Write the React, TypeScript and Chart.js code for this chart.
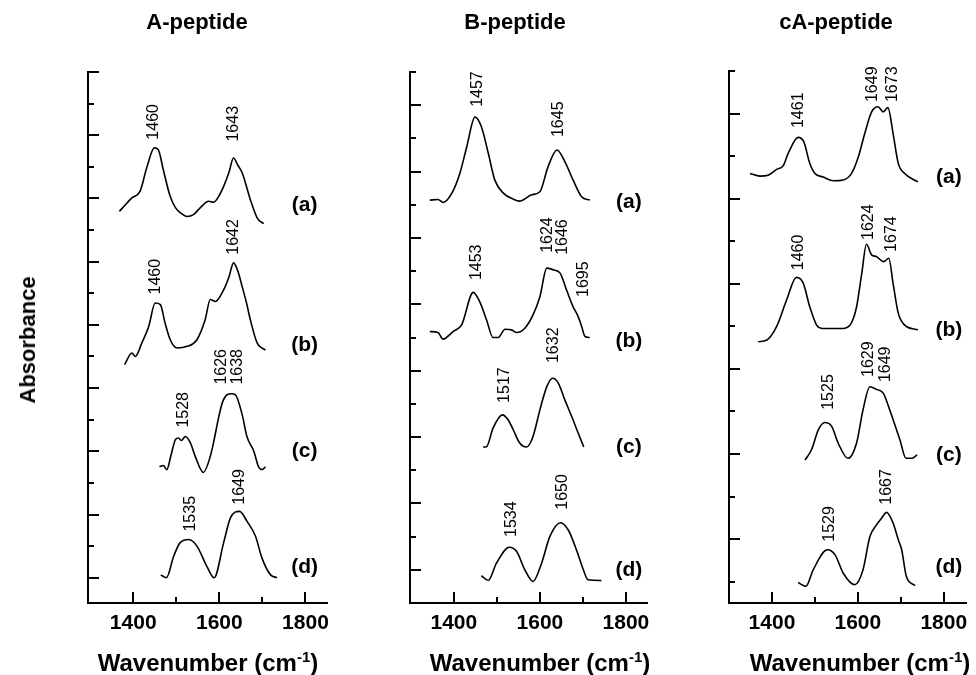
import React, { useEffect, useRef } from "react";
import { Chart, registerables } from "chart.js";
Chart.register(...registerables);

const FONT = '"Liberation Sans", Arial, Helvetica, sans-serif';

// ---------- A-peptide spectra (wavenumber, absorbance incl. stacking offset) ----------
const aPepA_w = [1368, 1385, 1397, 1416, 1432, 1449, 1458, 1470, 1485, 1498, 1512, 1525, 1540, 1556, 1575, 1587, 1600, 1610, 1622, 1633, 1643, 1653, 1672, 1688, 1703];
const aPepA_y = [11.59, 11.85, 12.02, 12.23, 13.0, 13.6, 13.55, 12.9, 12.1, 11.71, 11.52, 11.43, 11.49, 11.71, 11.91, 11.88, 12.1, 12.38, 12.81, 13.28, 13.05, 12.81, 11.96, 11.38, 11.2];
const aPepB_w = [1380, 1397, 1405, 1420, 1436, 1451, 1463, 1474, 1486, 1502, 1525, 1548, 1567, 1579, 1591, 1610, 1622, 1633, 1643, 1653, 1663, 1672, 1688, 1707];
const aPepB_y = [6.74, 7.11, 7.0, 7.43, 7.95, 8.69, 8.64, 8.06, 7.53, 7.27, 7.32, 7.53, 8.16, 8.8, 8.74, 9.11, 9.5, 9.96, 9.7, 9.21, 8.7, 8.16, 7.42, 7.2];
const aPepC_w = [1461, 1470, 1478, 1488, 1498, 1505, 1512, 1521, 1533, 1544, 1563, 1579, 1588, 1598, 1607, 1618, 1628, 1637, 1653, 1664, 1680, 1691, 1699, 1707];
const aPepC_y = [3.51, 3.55, 3.42, 3.89, 4.37, 4.42, 4.34, 4.47, 4.26, 3.84, 3.33, 3.84, 4.37, 5.05, 5.54, 5.79, 5.82, 5.79, 5.16, 4.47, 4.0, 3.51, 3.42, 3.51];
const aPepD_w = [1464, 1477, 1494, 1509, 1529, 1548, 1571, 1588, 1610, 1626, 1647, 1664, 1684, 1699, 1719, 1734];
const aPepD_y = [0.09, 0.0, 0.68, 1.11, 1.21, 1.0, 0.36, 0.0, 1.11, 1.9, 2.1, 1.79, 1.31, 0.62, 0.09, 0.0];

// ---------- B-peptide spectra ----------
const bPepA_w = [1344, 1363, 1375, 1395, 1414, 1430, 1449, 1464, 1480, 1495, 1515, 1538, 1553, 1581, 1600, 1619, 1640, 1658, 1677, 1697, 1716];
const bPepA_y = [11.14, 11.16, 11.07, 11.34, 11.95, 12.75, 13.64, 13.35, 12.55, 11.75, 11.35, 11.17, 11.11, 11.3, 11.39, 12.15, 12.65, 12.3, 11.75, 11.24, 11.14];
const bPepB_w = [1344, 1363, 1375, 1398, 1418, 1445, 1460, 1476, 1491, 1503, 1519, 1534, 1546, 1565, 1584, 1600, 1616, 1631, 1647, 1662, 1677, 1689, 1697, 1705, 1716];
const bPepB_y = [7.18, 7.15, 6.95, 7.18, 7.38, 8.36, 8.08, 7.53, 7.0, 7.0, 7.25, 7.23, 7.15, 7.28, 7.68, 8.23, 9.09, 9.04, 8.94, 8.43, 7.93, 7.63, 7.33, 7.03, 7.0];
const bPepC_w = [1468, 1476, 1491, 1513, 1526, 1538, 1553, 1569, 1584, 1600, 1616, 1630, 1643, 1658, 1674, 1689, 1702];
const bPepC_y = [3.7, 3.71, 4.27, 4.67, 4.52, 4.22, 3.82, 3.7, 4.02, 4.82, 5.52, 5.77, 5.62, 5.12, 4.62, 4.12, 3.7];
const bPepD_w = [1464, 1480, 1499, 1529, 1546, 1565, 1584, 1604, 1623, 1648, 1666, 1685, 1701, 1712, 1743];
const bPepD_y = [-0.18, -0.32, 0.2, 0.68, 0.55, 0.0, -0.35, 0.2, 1.0, 1.42, 1.2, 0.6, 0.0, -0.3, -0.32];

// ---------- cA-peptide spectra ----------
const cPepA_w = [1349, 1372, 1391, 1411, 1426, 1438, 1461, 1474, 1488, 1500, 1519, 1543, 1566, 1585, 1601, 1616, 1632, 1647, 1659, 1670, 1682, 1694, 1709, 1729, 1740];
const cPepA_y = [9.59, 9.53, 9.55, 9.69, 9.77, 10.07, 10.44, 10.34, 9.83, 9.59, 9.51, 9.42, 9.44, 9.59, 9.98, 10.53, 11.04, 11.16, 11.04, 11.14, 10.53, 9.83, 9.59, 9.45, 9.4];
const cPepB_w = [1368, 1388, 1411, 1434, 1457, 1473, 1488, 1504, 1519, 1543, 1566, 1585, 1597, 1609, 1620, 1632, 1643, 1660, 1672, 1682, 1694, 1709, 1740];
const cPepB_y = [5.64, 5.68, 6.0, 6.62, 7.15, 7.01, 6.46, 6.03, 5.95, 5.95, 5.95, 6.08, 6.46, 7.24, 7.93, 7.68, 7.64, 7.52, 7.6, 7.01, 6.31, 6.03, 5.92];
const cPepC_w = [1477, 1492, 1508, 1523, 1539, 1554, 1577, 1597, 1612, 1628, 1643, 1659, 1674, 1690, 1698, 1712, 1725, 1738];
const cPepC_y = [2.86, 3.1, 3.57, 3.74, 3.65, 3.26, 2.9, 3.26, 4.04, 4.58, 4.52, 4.43, 4.04, 3.57, 3.33, 2.9, 2.9, 2.98];
const cPepD_w = [1461, 1479, 1496, 1529, 1547, 1566, 1593, 1612, 1628, 1643, 1655, 1667, 1682, 1694, 1702, 1713, 1733];
const cPepD_y = [-0.02, -0.11, 0.28, 0.75, 0.63, 0.2, -0.07, 0.28, 1.06, 1.33, 1.49, 1.63, 1.38, 0.99, 0.75, 0.12, -0.09];

// ---------- peak annotations ----------
const aPeakText = ["1460", "1643", "1460", "1642", "1528", "1626", "1638", "1535", "1649"];
const aPeakW = [1447, 1633, 1453, 1633, 1516, 1605, 1642, 1533, 1647];
const aPeakY = [13.86, 13.8, 8.96, 10.22, 4.75, 6.11, 6.11, 1.46, 2.31];
const bPeakText = ["1457", "1645", "1453", "1624", "1646", "1695", "1517", "1632", "1534", "1650"];
const bPeakW = [1455, 1643, 1453, 1619, 1653, 1701, 1519, 1631, 1534, 1653];
const bPeakY = [13.95, 13.04, 8.73, 9.55, 9.49, 8.22, 5.03, 6.23, 0.99, 1.81];
const cPeakText = ["1461", "1649", "1673", "1460", "1624", "1674", "1525", "1629", "1649", "1529", "1667"];
const cPeakW = [1461, 1635, 1682, 1461, 1624, 1678, 1531, 1624, 1664, 1535, 1667];
const cPeakY = [10.66, 11.27, 11.27, 7.32, 8.03, 7.75, 4.04, 4.81, 4.69, 0.94, 1.81];

// ---------- trace names ----------
const traceNames = ["(a)", "(b)", "(c)", "(d)"];
const aNameW = 1798;
const aNameY = [11.8, 7.37, 3.99, 0.32];
const bNameW = 1807;
const bNameY = [11.08, 6.9, 3.7, 0.0];
const cNameW = 1812;
const cNameY = [9.51, 5.92, 2.98, 0.35];

const xTickLabels = [1400, 1600, 1800];
const xMinorTicks = [1500, 1700];

interface PanelCfg {
  series: number[][][];
  peakText: string[];
  peakW: number[];
  peakY: number[];
  nameW: number;
  nameY: number[];
  xMin: number;
  xMax: number;
  yMin: number;
  yMax: number;
  longEven: boolean;
  canvasLeft: number;
  canvasW: number;
  padLeft: number;
  padRight: number;
  padTop: number;
}

const panels: PanelCfg[] = [
  {
    series: [[aPepA_w, aPepA_y], [aPepB_w, aPepB_y], [aPepC_w, aPepC_y], [aPepD_w, aPepD_y]],
    peakText: aPeakText, peakW: aPeakW, peakY: aPeakY, nameW: aNameW, nameY: aNameY,
    xMin: 1295, xMax: 1850, yMin: -0.8, yMax: 16, longEven: true,
    canvasLeft: 0, canvasW: 340, padLeft: 88, padRight: 13, padTop: 72,
  },
  {
    series: [[bPepA_w, bPepA_y], [bPepB_w, bPepB_y], [bPepC_w, bPepC_y], [bPepD_w, bPepD_y]],
    peakText: bPeakText, peakW: bPeakW, peakY: bPeakY, nameW: bNameW, nameY: bNameY,
    xMin: 1298, xMax: 1849, yMin: -1, yMax: 15, longEven: true,
    canvasLeft: 340, canvasW: 320, padLeft: 70, padRight: 13, padTop: 72,
  },
  {
    series: [[cPepA_w, cPepA_y], [cPepB_w, cPepB_y], [cPepC_w, cPepC_y], [cPepD_w, cPepD_y]],
    peakText: cPeakText, peakW: cPeakW, peakY: cPeakY, nameW: cNameW, nameY: cNameY,
    xMin: 1300, xMax: 1853, yMin: -0.5, yMax: 12, longEven: false,
    canvasLeft: 660, canvasW: 316, padLeft: 69, padRight: 9, padTop: 71,
  },
];

function Panel({ cfg }: { cfg: PanelCfg }) {
  const ref = useRef<HTMLCanvasElement>(null);
  useEffect(() => {
    const decor = {
      id: "decor",
      afterDraw(chart: any) {
        const ctx = chart.ctx;
        const xs = chart.scales.x;
        const ys = chart.scales.y;
        const area = chart.chartArea;
        ctx.save();
        ctx.strokeStyle = "#000";
        ctx.lineWidth = 2;
        // y ticks pointing inward
        for (let v = 0; v <= cfg.yMax; v++) {
          const py = Math.round(ys.getPixelForValue(v));
          const isLong = (v % 2 === 0) === cfg.longEven;
          const len = isLong ? 11 : 6;
          ctx.beginPath();
          ctx.moveTo(area.left, py);
          ctx.lineTo(area.left + len, py);
          ctx.stroke();
        }
        // x ticks pointing inward
        const allX = [...xTickLabels.map((v) => [v, 11]), ...xMinorTicks.map((v) => [v, 6])];
        for (const [v, len] of allX) {
          const px = Math.round(xs.getPixelForValue(v));
          ctx.beginPath();
          ctx.moveTo(px, area.bottom);
          ctx.lineTo(px, area.bottom - len);
          ctx.stroke();
        }
        // peak labels (rotated)
        ctx.fillStyle = "#000";
        ctx.font = `16px ${FONT}`;
        ctx.textAlign = "left";
        ctx.textBaseline = "middle";
        cfg.peakText.forEach((t, i) => {
          const px = xs.getPixelForValue(cfg.peakW[i]);
          const py = ys.getPixelForValue(cfg.peakY[i]);
          ctx.save();
          ctx.translate(px, py);
          ctx.rotate(-Math.PI / 2);
          ctx.fillText(t, 0, 0);
          ctx.restore();
        });
        // trace names
        ctx.font = `bold 21px ${FONT}`;
        ctx.textAlign = "center";
        traceNames.forEach((t, i) => {
          ctx.fillText(t, xs.getPixelForValue(cfg.nameW), ys.getPixelForValue(cfg.nameY[i]));
        });
        ctx.restore();
      },
    };

    const chart = new Chart(ref.current as HTMLCanvasElement, {
      type: "line",
      data: {
        datasets: cfg.series.map(([w, y]) => ({
          data: w.map((x, i) => ({ x, y: y[i] })),
          borderColor: "#000",
          borderWidth: 1.6,
          pointRadius: 0,
          fill: false,
          cubicInterpolationMode: "monotone" as const,
        })),
      },
      options: {
        animation: false,
        responsive: false,
        devicePixelRatio: 1,
        layout: { padding: { left: cfg.padLeft, right: cfg.padRight, top: cfg.padTop, bottom: 0 } },
        plugins: { legend: { display: false }, title: { display: false }, tooltip: { enabled: false } },
        events: [],
        scales: {
          x: {
            type: "linear",
            min: cfg.xMin,
            max: cfg.xMax,
            grid: { display: false, drawTicks: false },
            border: { display: true, color: "#000", width: 2 },
            afterBuildTicks: (scale: any) => {
              scale.ticks = xTickLabels.map((v) => ({ value: v }));
            },
            afterFit: (scale: any) => {
              scale.height = 72;
            },
            ticks: {
              color: "#000",
              padding: 8,
              maxRotation: 0,
              autoSkip: false,
              font: { family: FONT, size: 21, weight: "bold", lineHeight: 1.2 },
              callback: (v: any) => String(v),
            },
          },
          y: {
            type: "linear",
            min: cfg.yMin,
            max: cfg.yMax,
            grid: { display: false, drawTicks: false },
            border: { display: true, color: "#000", width: 2 },
            ticks: { display: false },
            afterFit: (scale: any) => {
              scale.width = 0;
            },
          },
        },
      } as any,
      plugins: [decor],
    });
    return () => chart.destroy();
  }, [cfg]);
  return (
    <canvas
      ref={ref}
      width={cfg.canvasW}
      height={675}
      style={{ position: "absolute", left: cfg.canvasLeft, top: 0, width: cfg.canvasW, height: 675 }}
    />
  );
}

const titles = ["A-peptide", "B-peptide", "cA-peptide"];
const titleCenters = [197, 515, 836];
const xTitleCenters = [208, 540, 860];

export default function App() {
  const textBase: React.CSSProperties = {
    position: "absolute",
    fontFamily: FONT,
    fontWeight: "bold",
    color: "#000",
    whiteSpace: "nowrap",
    textAlign: "center",
  };
  return (
    <div style={{ position: "absolute", left: 0, top: 0, width: 976, height: 675, background: "#fff", overflow: "hidden" }}>
      {panels.map((p, i) => (
        <Panel key={i} cfg={p} />
      ))}
      {titles.map((t, i) => (
        <div key={t} style={{ ...textBase, left: titleCenters[i] - 100, width: 200, top: 9, fontSize: 22, lineHeight: "26px" }}>
          {t}
        </div>
      ))}
      {xTitleCenters.map((c, i) => (
        <div key={i} style={{ ...textBase, left: c - 150, width: 300, top: 648, fontSize: 24, lineHeight: "30px" }}>
          Wavenumber (cm
          <span style={{ fontSize: 15, position: "relative", top: -9 }}>-1</span>)
        </div>
      ))}
      <div
        style={{
          ...textBase,
          left: 28,
          top: 340,
          fontSize: 22,
          lineHeight: "26px",
          transform: "translate(-50%, -50%) rotate(-90deg)",
        }}
      >
        Absorbance
      </div>
    </div>
  );
}
